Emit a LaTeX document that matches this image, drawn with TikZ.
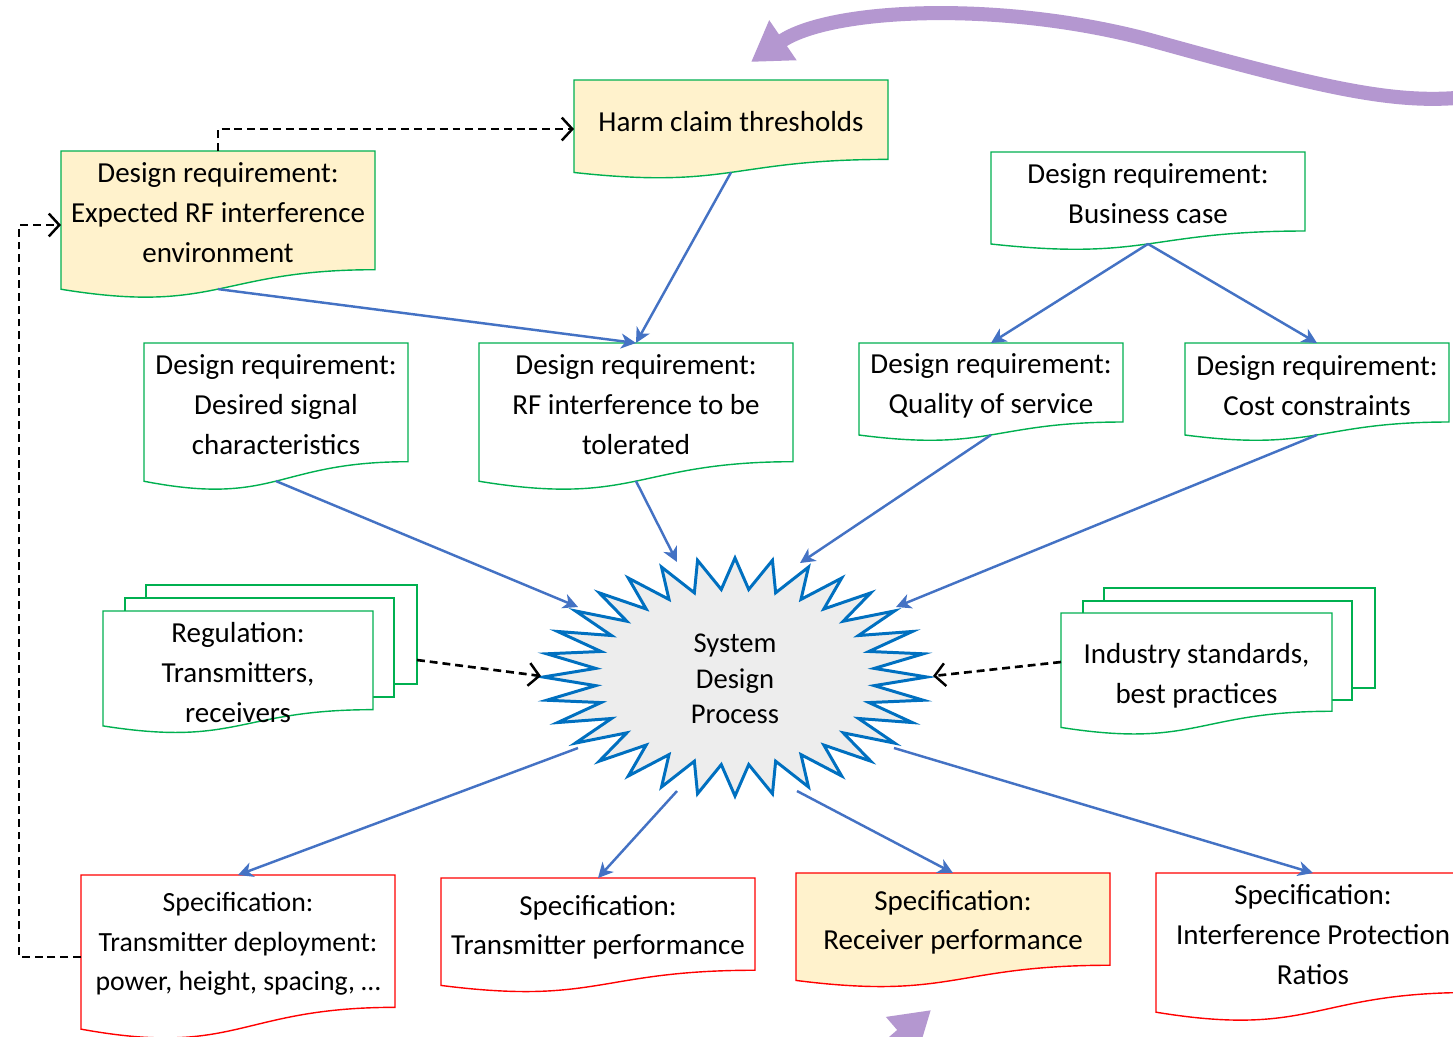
\documentclass[tikz,border=0pt]{standalone}
\usepackage{fontspec}
\setmainfont{Carlito}
\usetikzlibrary{arrows.meta}

\definecolor{docgreen}{HTML}{00B050}
\definecolor{docred}{HTML}{FF0000}
\definecolor{notefill}{HTML}{FFF2CC}
\definecolor{flowblue}{HTML}{4472C4}
\definecolor{starblue}{HTML}{0070C0}
\definecolor{stargray}{HTML}{EDEDED}
\definecolor{loopviolet}{HTML}{B497D0}

\tikzset{
  reqdoc/.style={draw=docgreen, fill=white, line width=0.8pt},
  reqnote/.style={draw=docgreen, fill=notefill, line width=0.8pt},
  specdoc/.style={draw=docred, fill=white, line width=0.8pt},
  specnote/.style={draw=docred, fill=notefill, line width=0.8pt},
  boxtext/.style={align=center, inner sep=0pt, font=\fontsize{16.5}{22.7}\selectfont},
  flow/.style={draw=flowblue, line width=1.4pt, -{Stealth[length=8.5pt,width=8.5pt,inset=2.5pt]}},
  feed/.style={draw=black, line width=1.5pt, dash pattern=on 4.5pt off 2.8pt, -{Straight Barb[length=6pt,width=13pt,line width=1.4pt]}},
  loop/.style={draw=loopviolet, line width=8pt, -{Triangle[length=22pt,width=26pt]}},
  burst/.style={draw=starblue, fill=stargray, line width=1.7pt},
}

% document shape with a wavy lower edge:
% #1 name, #2 x, #3 y, #4 width, #5 height, #6 style, #7 text centre y, #8 text
\newcommand\docbox[8]{%
  \path[#6] (#2,#3) -- (#2+#4,#3) -- (#2+#4,#3+0.802*#5)
    .. controls (#2+0.5*#4,#3+0.802*#5) and (#2+0.5*#4,#3+1.1075*#5) .. (#2,#3+0.934*#5) -- cycle;
  \node[boxtext] (#1) at (#2+0.5*#4,#7+0.8) {#8};
  \coordinate (#1-n) at (#2+0.5*#4,#3);
  \coordinate (#1-s) at (#2+0.5*#4,#3+0.933*#5);
}

\begin{document}
\begin{tikzpicture}[x=0.02cm, y=-0.02cm]
\useasboundingbox (0,0) rectangle (1453,1036);
\clip (0,0) rectangle (1453,1036);
\fill[white] (0,0) rectangle (1453,1036);

% requirements
\docbox{harm}{574}{80}{314}{99}{reqnote}{121}{Harm claim thresholds}
\docbox{exprf}{61}{151}{314}{148}{reqnote}{212}{Design requirement:\\Expected RF interference\\environment}
\docbox{biz}{991}{152}{314}{98.5}{reqdoc}{193}{Design requirement:\\Business case}
\docbox{desired}{144}{343}{264}{148}{reqdoc}{404}{Design requirement:\\Desired signal\\characteristics}
\docbox{rftol}{479}{343}{314}{148}{reqdoc}{404}{Design requirement:\\RF interference to be\\tolerated}
\docbox{qos}{859}{343}{264}{98.5}{reqdoc}{385}{Design requirement:\\Quality of service}
\docbox{cost}{1185}{343}{264}{98.5}{reqdoc}{385}{Design requirement:\\Cost constraints}

% stacked regulation sheets
\path[reqdoc] (146,585) rectangle (417,684);
\path[reqdoc] (125,598) rectangle (394,697);
\docbox{reg}{103}{611}{270}{123}{reqdoc}{672}{Regulation:\\Transmitters,\\receivers}
\coordinate (reg-e) at (417,660);

% stacked standards sheets
\path[reqdoc] (1104,588) rectangle (1375,688);
\path[reqdoc] (1083,601) rectangle (1352,700);
\docbox{ind}{1061}{613}{271}{122.5}{reqdoc}{675}{Industry standards,\\best practices}
\coordinate (ind-w) at (1061,662);

% specifications
\docbox{txdep}{81}{875}{314}{165}{specdoc}{943}{\fontsize{15.8}{21.8}\selectfont Specification:\\\fontsize{15.8}{21.8}\selectfont Transmitter deployment:\\\fontsize{15.8}{21.8}\selectfont power, height, spacing, \dots}
\docbox{txperf}{441}{878}{314}{115}{specdoc}{926.5}{Specification:\\Transmitter performance}
\docbox{rxperf}{796}{873}{314}{115}{specnote}{921.5}{Specification:\\Receiver performance}
\docbox{ipr}{1156}{873}{314}{149}{specdoc}{934}{Specification:\\Interference Protection\\Ratios}

% 32-point burst
\path[burst] (735+192,677)
  \foreach \k in {1,...,63}{ -- ({735+(166+26*cos(180*\k))*cos(5.625*\k)},{677+(103.5+15.5*cos(180*\k))*sin(5.625*\k)}) } -- cycle;
\node[boxtext, font=\fontsize{16.3}{20.1}\selectfont] (sdp) at (735,679) {System\\Design\\Process};
\coordinate (sdp-w) at (541,676);
\coordinate (sdp-e) at (933,676);
\coordinate (sdp-a1) at (578,607);
\coordinate (sdp-a2) at (677,562);
\coordinate (sdp-a3) at (800,563);
\coordinate (sdp-a4) at (896,607);
\coordinate (sdp-b1) at (578,748);
\coordinate (sdp-b2) at (677,791);
\coordinate (sdp-b3) at (797,791);
\coordinate (sdp-b4) at (894,748);

% connectors
\coordinate (harm-w) at (574,129);
\coordinate (exprf-w) at (61,225);
\coordinate (txdep-w) at (81,957);

\draw[flow] (harm-s) -- (rftol-n);
\draw[flow] (exprf-s) -- (rftol-n);
\draw[flow] (biz-s) -- (qos-n);
\draw[flow] (biz-s) -- (cost-n);
\draw[flow] (desired-s) -- (sdp-a1);
\draw[flow] (rftol-s) -- (sdp-a2);
\draw[flow] (qos-s) -- (sdp-a3);
\draw[flow] (cost-s) -- (sdp-a4);
\draw[flow] (sdp-b1) -- (txdep-n);
\draw[flow] (sdp-b2) -- (txperf-n);
\draw[flow] (sdp-b3) -- (rxperf-n);
\draw[flow] (sdp-b4) -- (ipr-n);

\draw[feed] (exprf-n) |- (harm-w);
\draw[feed] (reg-e) -- (sdp-w);
\draw[feed] (ind-w) -- (sdp-e);
\draw[feed] (txdep-w) -- ++(-62,0) |- (exprf-w);

% feedback loop arrows
\coordinate (loop-top-in) at (1475,96);
\coordinate (loop-top-tip) at (751,62);
\draw[loop] (loop-top-in) .. controls (1400,106) and (1330,90) .. (1150,40)
  .. controls (1000,0) and (830,8) .. (loop-top-tip);
\coordinate (loop-bot-in) at (850,1080);
\coordinate (loop-bot-tip) at (931,1010);
\draw[loop] (loop-bot-in) -- (loop-bot-tip);
\end{tikzpicture}
\end{document}
